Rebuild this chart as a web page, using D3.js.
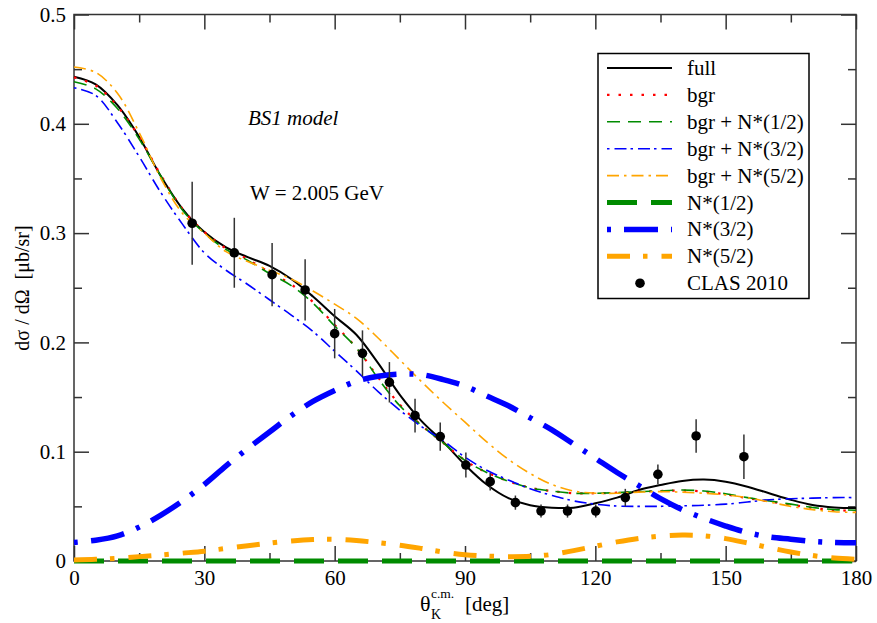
<!DOCTYPE html>
<html>
<head>
<meta charset="utf-8">
<script src="https://cdn.jsdelivr.net/npm/d3@7"></script>
<style>
  body { margin: 0; background: #fff; }
  svg { display: block; }
  text { font-family: "Liberation Serif", "DejaVu Serif", serif; fill: #000; }
</style>
</head>
<body>
<div id="chart"></div>
<script>
// angle grid (deg) shared by all model curves
const theta = [0,5,10,15,20,25,30,35,40,45,50,55,60,65,70,75,80,85,90,95,100,105,110,115,120,125,130,135,140,145,150,155,160,165,170,175,180]

const full   = [.443,.436,.417,.388,.352,.322,.301,.287,.278,.270,.258,.242,.224,.207,.181,.152,.128,.109,.088,.070,.0575,.051,.0488,.0488,.0528,.058,.065,.0695,.0732,.0745,.0726,.068,.062,.056,.0512,.049,.0485]
const bgr    = [.4425,.435,.416,.388,.353,.322,.301,.286,.276,.264,.253,.237,.216,.195,.168,.143,.124,.108,.092,.081,.073,.067,.064,.062,.062,.0625,.0635,.064,.0645,.0635,.061,.0575,.0545,.0515,.0485,.0465,.046]
const bgrN12 = [.4385,.432,.414,.386,.352,.321,.300,.285,.275,.263,.252,.236,.215,.195,.167,.142,.124,.108,.092,.081,.073,.067,.064,.062,.062,.0625,.0635,.064,.065,.064,.0615,.058,.055,.052,.049,.047,.0465]
const bgrN32 = [.433,.426,.401,.370,.337,.308,.282,.266,.253,.239,.225,.210,.192,.174,.155,.138,.123,.110,.095,.083,.074,.066,.060,.055,.052,.0503,.050,.050,.0505,.051,.052,.054,.056,.057,.0575,.058,.058]
const bgrN52 = [.452,.447,.428,.392,.350,.318,.300,.283,.274,.266,.258,.247,.235,.222,.204,.184,.164,.145,.127,.109,.093,.080,.070,.064,.062,.062,.063,.0635,.063,.062,.0605,.058,.054,.050,.047,.045,.0445]
const resN12 = [0,0,0,0,0,0,0,0,0,0,0,0,0,0,0,0,0,0,0,0,0,0,0,0,0,0,0,0,0,0,0,0,0,0,0,0,0]
const resN32 = [.017,.019,.023,.031,.042,.055,.070,.087,.103,.118,.133,.146,.156,.1645,.169,.171,.1705,.166,.160,.151,.142,.131,.120,.107,.094,.081,.069,.057,.047,.039,.032,.026,.022,.020,.018,.017,.0168]
const resN52 = [.001,.0015,.0025,.004,.0055,.0072,.009,.0115,.014,.0163,.0183,.0196,.0198,.0187,.0168,.0145,.0115,.0082,.0058,.0045,.004,.0043,.006,.0095,.0135,.0175,.0207,.0228,.0237,.0231,.0205,.0165,.0122,.0082,.005,.0027,.0016]

// CLAS 2010 data
const clasAngle = [27.2,36.9,45.6,53.2,60.0,66.4,72.6,78.5,84.3,90.2,95.8,101.6,107.5,113.6,120.1,126.9,134.4,143.2,154.2]
const clasValue = [.309,.282,.262,.248,.208,.190,.1635,.133,.1138,.0878,.0726,.0534,.0457,.0457,.0457,.058,.0793,.1144,.0954]
const clasError = [.038,.032,.029,.028,.0226,.021,.0185,.0155,.013,.0114,.008,.0065,.006,.006,.006,.008,.009,.0153,.0203]

const xTicks = [0,30,60,90,120,150,180]
const yTicks = [0,0.1,0.2,0.3,0.4,0.5]

const legendLabels = ["full","bgr","bgr + N*(1/2)","bgr + N*(3/2)","bgr + N*(5/2)","N*(1/2)","N*(3/2)","N*(5/2)","CLAS 2010"]

const width = 877, height = 623
const padding = {left: 74, right: 21, top: 14.5, bottom: 62}
const serif = '"Liberation Serif", "DejaVu Serif", serif'

const svg = d3.select("#chart").append("svg").attr("width", width).attr("height", height)

const xScale = d3.scaleLinear().domain([0, 180]).range([padding.left, width - padding.right])
const yScale = d3.scaleLinear().domain([0, 0.5]).range([height - padding.bottom, padding.top])

const series = [
  {values: full,   color: "#000",    width: 2,   dash: null},
  {values: bgr,    color: "#ff0000", width: 2.2, dash: "2.5,9"},
  {values: bgrN12, color: "#008b00", width: 1.6, dash: "13,8"},
  {values: bgrN32, color: "#0000ff", width: 1.6, dash: "2.5,5,12,4"},
  {values: bgrN52, color: "#ffa500", width: 1.6, dash: "12,5,2.5,5"},
  {values: resN12, color: "#008b00", width: 5,   dash: "30,14"},
  {values: resN32, color: "#0000ff", width: 5.5, dash: "4,13,34,13"},
  {values: resN52, color: "#ffa500", width: 5,   dash: "23,13,4.5,14"}
]

// frame
const axisColor = "#333"
function styleAxis(g) {
  g.attr("font-family", serif)
  g.select(".domain").remove()
  g.selectAll("line").attr("stroke", axisColor).attr("stroke-width", 1.5)
  g.selectAll("text").style("font-size", "21px").style("font-family", serif).attr("fill", "#000")
}
const minorX = [15,45,75,105,135,165]
const minorY = [0.05,0.15,0.25,0.35,0.45]
const plotB = height - padding.bottom, plotR = width - padding.right

svg.append("g").attr("transform", "translate(0," + plotB + ")")
  .call(d3.axisBottom(xScale).tickValues(xTicks).tickSize(-15).tickPadding(9).tickFormat(d3.format("d"))).call(styleAxis)
svg.append("g").attr("transform", "translate(0," + plotB + ")")
  .call(d3.axisBottom(xScale).tickValues(minorX).tickSize(-8).tickFormat("")).call(styleAxis)
svg.append("g").attr("transform", "translate(0," + padding.top + ")")
  .call(d3.axisTop(xScale).tickValues(xTicks).tickSize(-15).tickFormat("")).call(styleAxis)
svg.append("g").attr("transform", "translate(0," + padding.top + ")")
  .call(d3.axisTop(xScale).tickValues(minorX).tickSize(-8).tickFormat("")).call(styleAxis)
svg.append("g").attr("transform", "translate(" + padding.left + ",0)")
  .call(d3.axisLeft(yScale).tickValues(yTicks).tickSize(-15).tickPadding(8).tickFormat(d => d === 0 ? "0" : d3.format(".1f")(d))).call(styleAxis)
svg.append("g").attr("transform", "translate(" + padding.left + ",0)")
  .call(d3.axisLeft(yScale).tickValues(minorY).tickSize(-8).tickFormat("")).call(styleAxis)
svg.append("g").attr("transform", "translate(" + plotR + ",0)")
  .call(d3.axisRight(yScale).tickValues(yTicks).tickSize(-15).tickFormat("")).call(styleAxis)
svg.append("g").attr("transform", "translate(" + plotR + ",0)")
  .call(d3.axisRight(yScale).tickValues(minorY).tickSize(-8).tickFormat("")).call(styleAxis)

svg.append("rect")
  .attr("x", padding.left).attr("y", padding.top)
  .attr("width", plotR - padding.left).attr("height", plotB - padding.top)
  .attr("fill", "none").attr("stroke", axisColor).attr("stroke-width", 1.5)

// curves
const lineFunction = d3.line()
  .x((d, i) => xScale(theta[i]))
  .y(d => yScale(d))
  .curve(d3.curveCatmullRom.alpha(0.5))

svg.append("g").selectAll("path")
  .data(series)
  .enter()
  .append("path")
  .attr("fill", "none")
  .attr("stroke", d => d.color)
  .attr("stroke-width", d => d.width)
  .attr("stroke-dasharray", d => d.dash)
  .attr("d", d => lineFunction(d.values))

// data points with error bars
const clas = clasAngle.map((a, i) => [a, clasValue[i], clasError[i]])
const pts = svg.append("g")
pts.selectAll("line")
  .data(clas)
  .enter()
  .append("line")
  .attr("x1", d => xScale(d[0])).attr("x2", d => xScale(d[0]))
  .attr("y1", d => yScale(d[1] + d[2])).attr("y2", d => yScale(d[1] - d[2]))
  .attr("stroke", "#333").attr("stroke-width", 1.5)
pts.selectAll("circle")
  .data(clas)
  .enter()
  .append("circle")
  .attr("cx", d => xScale(d[0])).attr("cy", d => yScale(d[1]))
  .attr("r", 4.8).attr("fill", "#000")

// annotations
const txt = (x, y, size, s) => svg.append("text").attr("x", x).attr("y", y)
  .style("font-family", serif).style("font-size", size + "px").text(s)
txt(248, 125, 21, "BS1 model").style("font-style", "italic")
txt(250, 200, 21, "W = 2.005 GeV")

// axis titles
svg.append("text")
  .attr("transform", "translate(29,288) rotate(-90)")
  .attr("text-anchor", "middle")
  .style("font-family", serif)
  .style("font-size", "20px")
  .style("white-space", "pre")
  .text("dσ / dΩ  [μb/sr]")
txt(420, 611, 22, "θ")
txt(431, 598, 13.5, "c.m.")
txt(431, 619, 14, "K")
txt(465, 611, 21, "[deg]")

// legend
const legend = svg.append("g")
legend.append("rect")
  .attr("x", 598).attr("y", 53.5).attr("width", 211).attr("height", 245)
  .attr("fill", "#fff").attr("stroke", "#000").attr("stroke-width", 1.5)
const rowY = i => 68 + i * 26.9
legendLabels.forEach((label, i) => {
  if (i < series.length) {
    legend.append("line")
      .attr("x1", 607).attr("x2", 672).attr("y1", rowY(i)).attr("y2", rowY(i))
      .attr("stroke", series[i].color)
      .attr("stroke-width", series[i].width)
      .attr("stroke-dasharray", series[i].dash)
  } else {
    legend.append("circle").attr("cx", 640).attr("cy", rowY(i)).attr("r", 4.8).attr("fill", "#000")
  }
  legend.append("text").attr("x", 687).attr("y", rowY(i) + 7)
    .style("font-family", serif).style("font-size", "21px").text(label)
})
</script>
</body>
</html>
